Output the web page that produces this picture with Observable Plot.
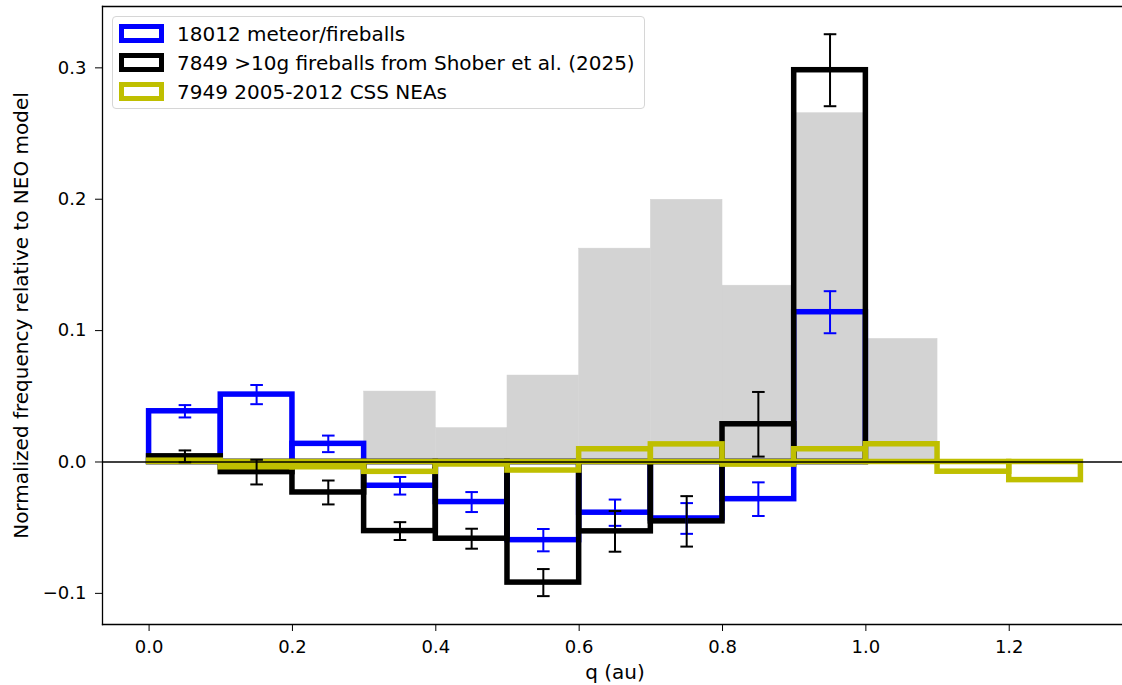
<!DOCTYPE html>
<html>
<head>
<meta charset="utf-8">
<script src="https://cdn.jsdelivr.net/npm/d3@7"></script>
<script src="https://cdn.jsdelivr.net/npm/@observablehq/plot@0.6"></script>
<style>
  html, body { margin: 0; padding: 0; background: white; }
  #wrap { position: relative; width: 1122px; height: 685px; overflow: hidden; font-family: "DejaVu Sans", sans-serif; }
  #legend { position: absolute; left: 112px; top: 16px; width: 531px; height: 91px;
    border: 1px solid #d6d6d6; border-radius: 4px; background: rgba(255,255,255,0.8); }
  .row { position: absolute; left: 6px; height: 28px; display: flex; align-items: center; white-space: nowrap; }
  .patch { box-sizing: border-box; width: 45px; height: 19.5px; border-style: solid; border-width: 5.5px; background: transparent; }
  .lab { margin-left: 13px; font-size: 20px; color: black; }
</style>
</head>
<body>
<div id="wrap"></div>
<script>
// ---- data ----
const qLo = [0.0, 0.1, 0.2, 0.3, 0.4, 0.5, 0.6, 0.7, 0.8, 0.9, 1.0, 1.1, 1.2];
const binWidth = 0.1;

const modelGray = [0, 0, 0, 0.0536, 0.0258, 0.0658, 0.1624, 0.1996, 0.1342, 0.2655, 0.0937, 0, 0];

const meteorVals = [0.0386, 0.0513, 0.0138, -0.0181, -0.0305, -0.0595, -0.0386, -0.0430, -0.0283, 0.1140];
const meteorErr  = [0.0047, 0.0073, 0.0063, 0.0067, 0.0076, 0.0085, 0.0100, 0.0117, 0.0128, 0.0160];

const shoberVals = [0.0043, -0.0077, -0.0232, -0.0526, -0.0584, -0.0918, -0.0528, -0.0452, 0.0287, 0.2982];
const shoberErr  = [0.0045, 0.0094, 0.0091, 0.0068, 0.0076, 0.0103, 0.0155, 0.0192, 0.0246, 0.0274];

const cssVals = [0.001, -0.004, -0.004, -0.0075, -0.0019, -0.0065, 0.0097, 0.0134, -0.002, 0.0097, 0.0135, -0.0074, -0.0138];

const xTicks = [0.0, 0.2, 0.4, 0.6, 0.8, 1.0, 1.2];
const yTicks = [-0.1, 0.0, 0.1, 0.2, 0.3];

const seriesNames = ["18012 meteor/fireballs", "7849 >10g fireballs from Shober et al. (2025)", "7949 2005-2012 CSS NEAs"];
const seriesColors = ["#0000ff", "#000000", "#bfbf00"];

const xLabel = "q (au)";
const yLabel = "Normalized frequency relative to NEO model";

// ---- tables ----
function table(vals, errs) {
  return vals.map((v, i) => ({lo: qLo[i], hi: qLo[i] + binWidth, mid: qLo[i] + binWidth / 2, v, e: errs ? errs[i] : 0}));
}
const grayT = table(modelGray).filter(d => d.v !== 0);
const blueT = table(meteorVals, meteorErr);
const blackT = table(shoberVals, shoberErr);
const yellowT = table(cssVals);

const capSymbol = {
  draw(context, size) {
    const r = Math.sqrt(size / Math.PI);
    context.moveTo(-r, 0);
    context.lineTo(r, 0);
  }
};

const lw = 5.5;
function barMarks(t, color) {
  return Plot.rect(t, {x1: "lo", x2: "hi", y1: 0, y2: "v", fill: "none", stroke: color, strokeWidth: lw});
}
function errMarks(t, color) {
  return [
    Plot.ruleX(t, {x: "mid", y1: d => d.v - d.e, y2: d => d.v + d.e, stroke: color, strokeWidth: 2}),
    Plot.dot(t, {x: "mid", y: d => d.v + d.e, symbol: capSymbol, r: 6.3, fill: "none", stroke: color, strokeWidth: 2}),
    Plot.dot(t, {x: "mid", y: d => d.v - d.e, symbol: capSymbol, r: 6.3, fill: "none", stroke: color, strokeWidth: 2})
  ];
}

const chart = Plot.plot({
  width: 1122,
  height: 685,
  marginLeft: 102,
  marginRight: -5,
  marginTop: 6,
  marginBottom: 61,
  style: {fontFamily: "DejaVu Sans", fontSize: "18px", background: "white", color: "black"},
  x: {domain: [-0.065, 1.365]},
  y: {domain: [-0.1237, 0.3467]},
  marks: [
    Plot.rect(grayT, {x1: "lo", x2: "hi", y1: 0, y2: "v", fill: "#d3d3d3", stroke: "#d3d3d3", strokeWidth: 0.5}),
    barMarks(blueT, seriesColors[0]),
    barMarks(blackT, seriesColors[1]),
    barMarks(yellowT, seriesColors[2]),
    Plot.ruleY([0], {stroke: "black", strokeWidth: 1.5}),
    ...errMarks(blueT, seriesColors[0]),
    ...errMarks(blackT, seriesColors[1]),
    Plot.frame({anchor: "left", stroke: "black", strokeWidth: 1.3}),
    Plot.frame({anchor: "top", stroke: "black", strokeWidth: 1.3}),
    Plot.frame({anchor: "bottom", stroke: "black", strokeWidth: 1.3}),
    Plot.axisX({ticks: xTicks, tickFormat: d3.format(".1f"), tickSize: 7, tickPadding: 9, label: null, fontSize: 18}),
    Plot.axisY({ticks: yTicks, tickFormat: d3.format(".1f"), tickSize: 7, tickPadding: 9, label: null, fontSize: 18}),
    Plot.text([xLabel], {frameAnchor: "bottom", dy: 54, fontSize: 20, fill: "black", textAnchor: "middle"}),
    Plot.text([yLabel], {frameAnchor: "left", dx: -81, rotate: -90, fontSize: 20, fill: "black", textAnchor: "middle"})
  ]
});

const wrap = document.getElementById("wrap");
wrap.appendChild(chart);

// legend overlay inside the axes
const legend = document.createElement("div");
legend.id = "legend";
const rowTops = [2.5, 31.5, 60.5];
seriesNames.forEach((name, i) => {
  const row = document.createElement("div");
  row.className = "row";
  row.style.top = rowTops[i] + "px";
  const p = document.createElement("div");
  p.className = "patch";
  p.style.borderColor = seriesColors[i];
  const l = document.createElement("span");
  l.className = "lab";
  l.textContent = name;
  row.appendChild(p);
  row.appendChild(l);
  legend.appendChild(row);
});
wrap.appendChild(legend);
</script>
</body>
</html>
